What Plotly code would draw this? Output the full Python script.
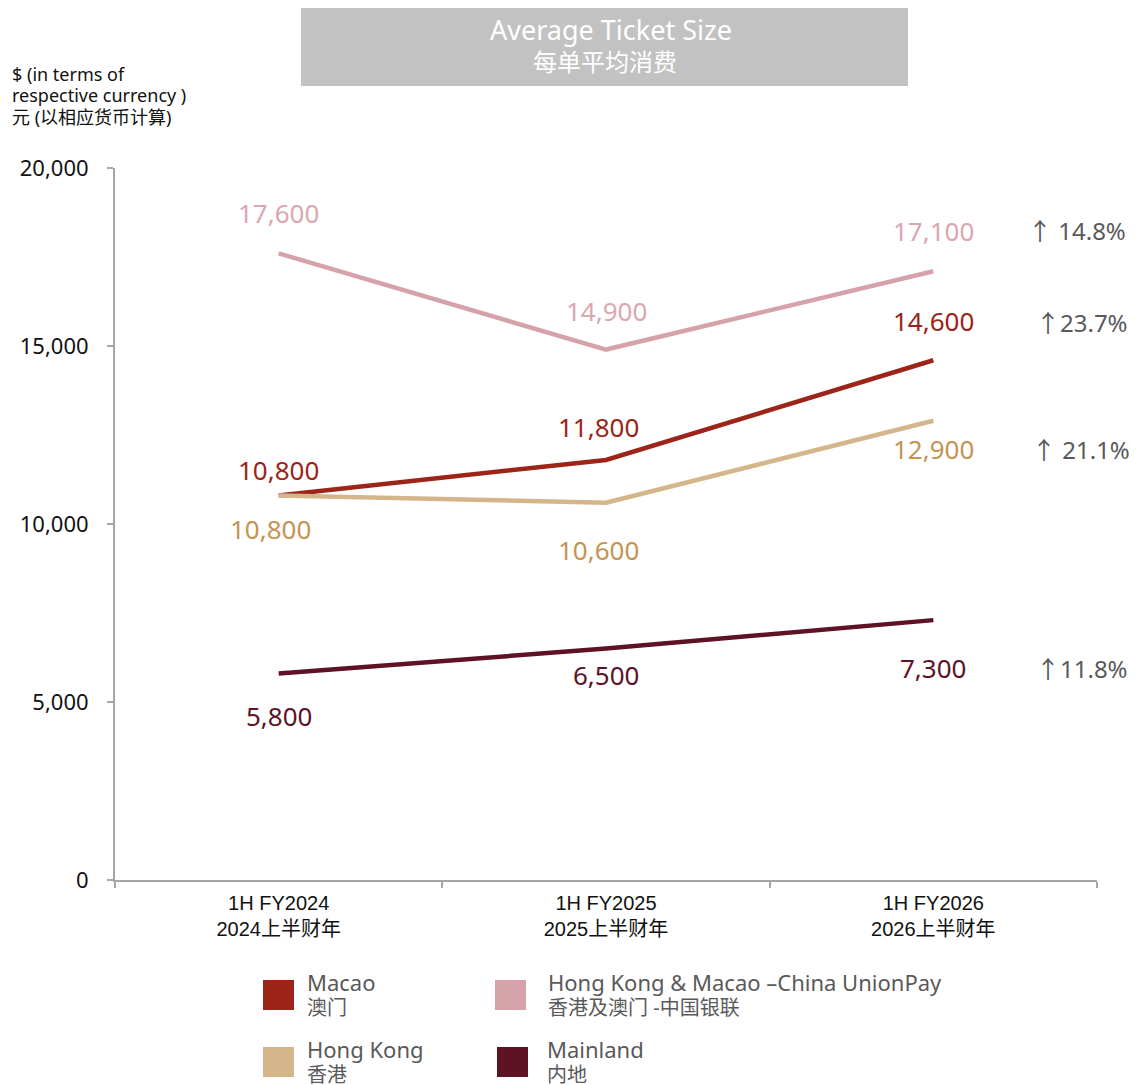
import plotly.graph_objects as go

# ---------------- data ----------------
categories = ["1H FY2024<br>2024上半财年", "1H FY2025<br>2025上半财年", "1H FY2026<br>2026上半财年"]
series_names = ["Hong Kong & Macao –China UnionPay", "Macao", "Hong Kong", "Mainland"]
series_names_cn = ["香港及澳门 -中国银联", "澳门", "香港", "内地"]
unionpay = [17600, 14900, 17100]
macao = [10800, 11800, 14600]
hongkong = [10800, 10600, 12900]
mainland = [5800, 6500, 7300]
growth_labels = ["↑ 14.8%", "↑23.7%", "↑ 21.1%", "↑11.8%"]
y_ticks = [0, 5000, 10000, 15000, 20000]

# ---------------- style ----------------
O = 8  # page body margin offset
W, H = 1137 - O, 1085 - O
L, R, T, B = 115 - O, 40, 168 - O, 205
PW = W - L - R
PH = H - T - B

def px(x):
    return (x - O - L) / PW

def py(y):
    return (O + H - B - y) / PH

line_colors = ["#D6A2AA", "#9C2419", "#D5B68B", "#5E1226"]
label_colors = ["#DBA7AF", "#9C2419", "#C49453", "#5E1226"]
FONT = "Noto Sans, Noto Sans CJK SC, sans-serif"

all_series = [unionpay, macao, hongkong, mainland]

fig = go.Figure()
for name, vals, col in zip(series_names, all_series, line_colors):
    fig.add_trace(go.Scatter(
        x=categories, y=vals, mode="lines", name=name,
        line=dict(color=col, width=4.5), hoverinfo="skip", showlegend=False,
    ))

# data label offsets (x shift, y shift in px) per series and point
offsets = [
    [(0, 40), (0, 39), (0, 40)],
    [(0, 26), (-8, 33), (0, 39)],
    [(-8, -33), (-8, -47), (0, -28)],
    [(0, -42), (0, -26), (0, -48)],
]
annotations = []
for vals, col, offs in zip(all_series, label_colors, offsets):
    for c, v, (dx, dy) in zip(categories, vals, offs):
        annotations.append(dict(
            x=c, y=v, xref="x", yref="y", text=f"{v:,}", showarrow=False,
            xshift=dx, yshift=dy, font=dict(family=FONT, size=26, color=col),
        ))

# growth labels at right
growth_pos = [(1026, 230), (1034, 322), (1030, 449), (1034, 668)]
for g, (gx, gy) in zip(growth_labels, growth_pos):
    annotations.append(dict(
        x=px(gx), y=py(gy), xref="paper", yref="paper", text=g, showarrow=False,
        xanchor="left", yanchor="middle", font=dict(family=FONT, size=24, color="#595959"),
    ))

# title
annotations.append(dict(
    x=px(611), y=py(29), xref="paper", yref="paper", text="Average Ticket Size",
    showarrow=False, xanchor="center", yanchor="middle",
    font=dict(family=FONT, size=27, color="#FFFFFF"),
))
annotations.append(dict(
    x=px(605), y=py(61), xref="paper", yref="paper", text="每单平均消费",
    showarrow=False, xanchor="center", yanchor="middle",
    font=dict(family=FONT, size=24, color="#FFFFFF"),
))

# y axis title
annotations.append(dict(
    x=px(10), y=py(95), xref="paper", yref="paper",
    text=("<span style='font-size:18px'>$ (in terms of</span><br>"
          "<span style='font-size:18px'>respective currency )</span><br>"
          "<span style='font-size:18px'>元 (以相应货币计算)</span>"),
    showarrow=False, xanchor="left", yanchor="middle", align="left",
    font=dict(family=FONT, size=16.5, color="#111111"),
))

shapes = [dict(type="rect", xref="paper", yref="paper", x0=px(301), x1=px(908),
               y0=py(86), y1=py(6), fillcolor="#C2C2C2", line=dict(width=0), layer="below")]

# legend (2x2 grid): (series index, square left, square centre y, text gap)
legend_items = [
    (1, 263, 995, 42), (0, 495, 995, 51), (2, 263, 1062, 42), (3, 497, 1062, 48)
]
for idx, lx, ly, gap in legend_items:
    shapes.append(dict(type="rect", xref="paper", yref="paper",
                       x0=px(lx), x1=px(lx + 31), y0=py(ly + 15), y1=py(ly - 15),
                       fillcolor=line_colors[idx], line=dict(width=0)))
    annotations.append(dict(
        x=px(lx + gap), y=py(ly - 1), xref="paper", yref="paper",
        text=(f"<span style='font-size:22px'>{series_names[idx]}</span><br>"
              f"<span style='font-size:20px'>{series_names_cn[idx]}</span>"),
        showarrow=False, xanchor="left", yanchor="middle", align="left",
        font=dict(family=FONT, size=18.5, color="#595959"),
    ))

fig.update_layout(
    width=W, height=H,
    margin=dict(l=L, r=R, t=T, b=B, autoexpand=False),
    paper_bgcolor="white", plot_bgcolor="white",
    showlegend=False,
    annotations=annotations, shapes=shapes,
    xaxis=dict(
        type="category", range=[-0.5, 2.5], showgrid=False, zeroline=False,
        showline=True, linecolor="#A6A6A6", linewidth=2,
        ticks="outside", tickson="boundaries", ticklen=6, tickcolor="#A6A6A6", tickwidth=2,
        tickfont=dict(family="Liberation Sans, Noto Sans CJK SC, sans-serif", size=20, color="#111111"),
        ticklabelstandoff=4,
    ),
    yaxis=dict(
        range=[0, 20000], tickvals=y_ticks, tickformat=",", showgrid=False, zeroline=False,
        showline=True, linecolor="#A6A6A6", linewidth=2,
        ticks="outside", ticklen=6, tickcolor="#A6A6A6", tickwidth=2,
        tickfont=dict(family=FONT, size=22, color="#111111"),
        ticklabelstandoff=14,
    ),
)

fig.write_html("out.html")
